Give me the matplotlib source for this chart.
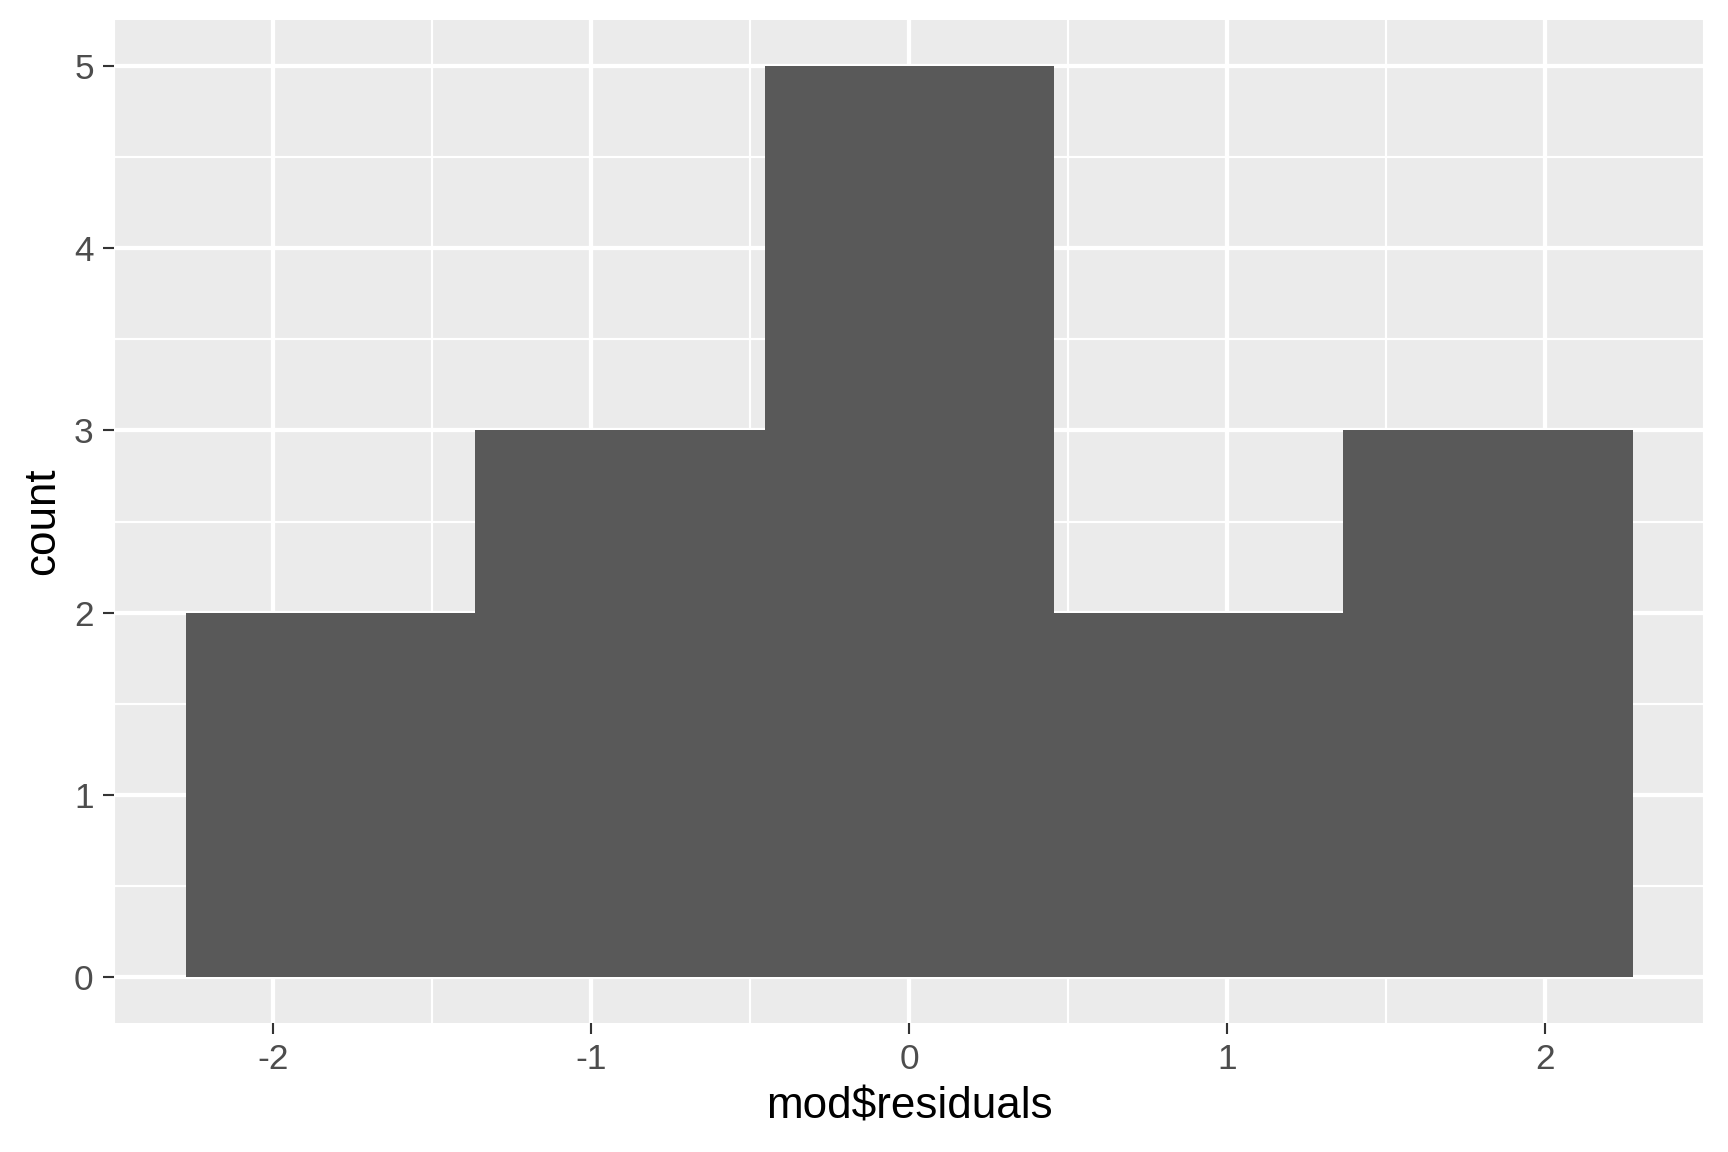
import numpy as np
import matplotlib
matplotlib.use('Agg')
matplotlib.rcParams.update({'font.family': ['Liberation Sans', 'DejaVu Sans']})
from matplotlib import pyplot as plt

# histogram bins
bin_edges = [-2.275, -1.365, -0.455, 0.455, 1.365, 2.275]
counts = [2, 3, 5, 2, 3]
xticks = [-2, -1, 0, 1, 2]
yticks = [0, 1, 2, 3, 4, 5]

fig = plt.figure(figsize=(6, 4), dpi=288)
ax = fig.add_axes([0.0657, 0.112, 0.921, 0.8706])

ax.set_facecolor('#EBEBEB')
for s in ax.spines.values():
    s.set_visible(False)

lefts = np.array(bin_edges[:-1])
widths = np.diff(bin_edges)
ax.bar(lefts, counts, width=widths, align='edge', color='#595959', linewidth=0, zorder=3)

ax.set_xlim(-2.5025, 2.5025)
ax.set_ylim(-0.25, 5.25)
ax.set_xticks(xticks)
ax.set_yticks(yticks)
ax.set_xticklabels([str(v) for v in xticks])
ax.set_xticks([-2.5, -1.5, -0.5, 0.5, 1.5, 2.5], minor=True)
ax.set_yticks([0.5, 1.5, 2.5, 3.5, 4.5], minor=True)

ax.grid(which='major', color='white', linewidth=1.07, zorder=1)
ax.grid(which='minor', color='white', linewidth=0.53, zorder=1)
ax.set_axisbelow(True)

ax.tick_params(which='major', length=2.75, width=0.53, color='#333333',
               labelsize=8.8, labelcolor='#4D4D4D', pad=2.2)
ax.tick_params(which='minor', length=0)

ax.set_xlabel('mod$residuals', fontsize=11, color='black', labelpad=2.75)
ax.set_ylabel('count', fontsize=11, color='black', labelpad=2.75)

plt.savefig('out.png', dpi=288)
